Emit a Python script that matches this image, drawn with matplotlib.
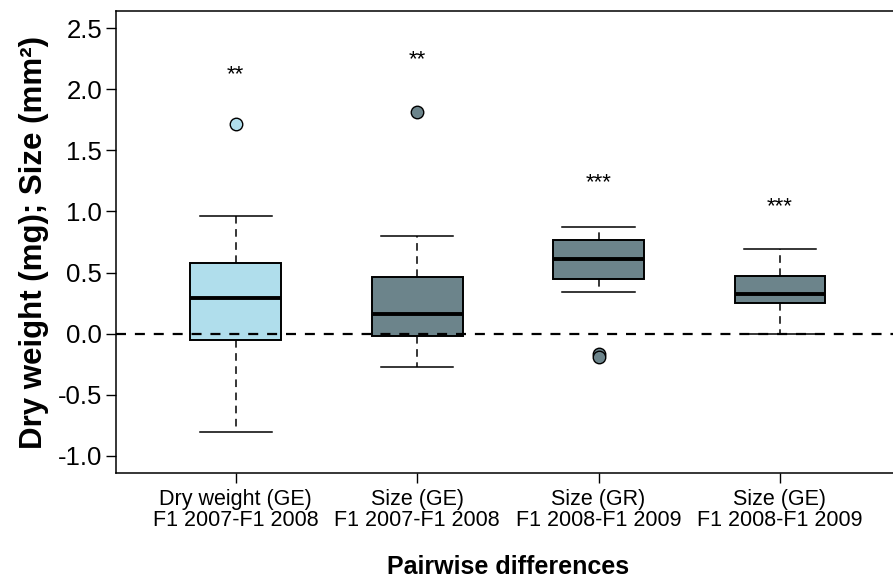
import numpy as np
import matplotlib.pyplot as plt

plt.rcParams['font.family'] = ['Liberation Sans', 'DejaVu Sans']

# pairwise differences
labels = ['Dry weight (GE)\nF1 2007-F1 2008', 'Size (GE)\nF1 2007-F1 2008',
          'Size (GR)\nF1 2008-F1 2009', 'Size (GE)\nF1 2008-F1 2009']
whislo = [-0.81, -0.27, 0.34, 0.00]
q1 = [-0.05, -0.02, 0.45, 0.25]
med = [0.29, 0.16, 0.61, 0.325]
q3 = [0.58, 0.465, 0.765, 0.47]
whishi = [0.96, 0.80, 0.87, 0.695]
fliers = [[1.72], [1.815], [-0.165, -0.19], []]
stars = ['**', '**', '***', '***']
star_y = [2.12, 2.24, 1.24, 1.04]
colors = ['#B0DEEC', '#6C848B', '#6C848B', '#6C848B']

stats = []
for i in range(len(labels)):
    stats.append(dict(whislo=whislo[i], q1=q1[i], med=med[i], q3=q3[i],
                      whishi=whishi[i], fliers=fliers[i]))

fig = plt.figure(figsize=(8.93, 5.80), dpi=100)
ax = fig.add_axes([0.130, 0.185, 0.8775, 0.7955])

pos = np.arange(1, len(labels) + 1)
bp = ax.bxp(stats, positions=pos, widths=0.5, capwidths=0.4, patch_artist=True,
            boxprops=dict(linewidth=1.4, edgecolor='black'),
            medianprops=dict(color='black', linewidth=2.8),
            whiskerprops=dict(color='black', linewidth=1.1, linestyle=(0, (5, 3.6))),
            capprops=dict(color='black', linewidth=1.1),
            flierprops=dict(marker='o', markersize=9, markeredgecolor='black',
                            markeredgewidth=1.0, linestyle='none'))
for box, c in zip(bp['boxes'], colors):
    box.set_facecolor(c)
for fl, c in zip(bp['fliers'], colors):
    fl.set_markerfacecolor(c)

ax.axhline(0, color='black', linewidth=1.6, linestyle=(0, (4.5, 4)), zorder=5)

for p, s, y in zip(pos, stars, star_y):
    ax.text(p, y, s, ha='center', va='center', fontsize=16)

ax.set_xlim(0.34, 4.66)
ax.set_ylim(-1.14, 2.64)
ax.set_yticks(np.arange(-1.0, 2.51, 0.5))
ax.set_yticklabels(['%.1f' % v for v in np.arange(-1.0, 2.51, 0.5)])
ax.set_xticks(pos)
ax.set_xticklabels(labels, fontsize=15.5, linespacing=1.0)
ax.tick_params(axis='y', labelsize=18.5, length=7, width=1.0, pad=3)
ax.tick_params(axis='x', length=7, width=1.0, pad=5)
for sp in ax.spines.values():
    sp.set_linewidth(1.1)

ax.set_ylabel('Dry weight (mg); Size (mm²)', fontsize=22.5, fontweight='bold', labelpad=6)
ax.set_xlabel('Pairwise differences', fontsize=18, fontweight='bold', labelpad=17)

fig.savefig('out.png', dpi=100)
